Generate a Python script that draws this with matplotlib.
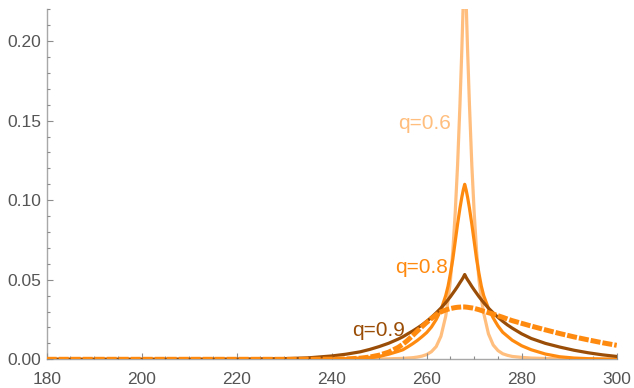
import matplotlib
matplotlib.use("Agg")
import matplotlib.pyplot as plt
from matplotlib.ticker import MultipleLocator, FormatStrFormatter

plt.rcParams['font.family'] = ['Liberation Sans', 'DejaVu Sans']

# sample positions along the horizontal axis
x = [180, 200, 220, 230, 235, 240, 243, 246, 248, 250, 252, 254, 255, 256, 257,
     258, 259, 260, 261, 262, 263, 264, 264.5, 265, 265.5, 266, 266.5, 267,
     267.4, 267.7, 268, 268.3, 268.6, 269, 269.5, 270, 270.5, 271, 271.5, 272,
     273, 274, 275, 276, 277, 278, 280, 282, 285, 288, 291, 294, 297, 300]

# density for q = 0.6
q06 = [0, 0, 0, 0, 0, 0, 0, 0.0001, 0.0001, 0.0002, 0.0003, 0.0005, 0.0006,
       0.0008, 0.0010, 0.0014, 0.0020, 0.0030, 0.0048, 0.0080, 0.0145, 0.027,
       0.037, 0.050, 0.068, 0.092, 0.122, 0.160, 0.195, 0.225, 0.250, 0.225,
       0.195, 0.160, 0.122, 0.092, 0.068, 0.050, 0.038, 0.029, 0.016, 0.009,
       0.0055, 0.0035, 0.0025, 0.0018, 0.0012, 0.0008, 0.0005, 0.0003, 0.0002,
       0.0001, 0.0001, 0.0001]

# density for q = 0.8
q08 = [0, 0, 0, 0, 0.0001, 0.0002, 0.0004, 0.0008, 0.0012, 0.0018, 0.0032,
       0.0050, 0.0060, 0.0078, 0.0097, 0.0118, 0.0142, 0.0168, 0.0203, 0.0250,
       0.0310, 0.0400, 0.0460, 0.0540, 0.0630, 0.0740, 0.0850, 0.0950, 0.1020,
       0.1065, 0.1100, 0.1065, 0.1020, 0.0950, 0.0850, 0.0740, 0.0630, 0.0540,
       0.0460, 0.0400, 0.0320, 0.0260, 0.0210, 0.0170, 0.0145, 0.0120, 0.0085,
       0.0060, 0.0033, 0.0016, 0.0008, 0.0004, 0.0002, 0.0001]

# density for q = 0.9
q09 = [0, 0, 0.0001, 0.0004, 0.0009, 0.0021, 0.0032, 0.0047, 0.0062, 0.0080,
       0.0101, 0.0127, 0.0142, 0.0160, 0.0177, 0.0196, 0.0216, 0.0239, 0.0264,
       0.0292, 0.0322, 0.0356, 0.0375, 0.0394, 0.0415, 0.0436, 0.0458, 0.0482,
       0.0500, 0.0515, 0.0533, 0.0515, 0.0500, 0.0482, 0.0458, 0.0436, 0.0415,
       0.0394, 0.0375, 0.0356, 0.0322, 0.0292, 0.0264, 0.0239, 0.0216, 0.0196,
       0.0160, 0.0131, 0.0100, 0.0077, 0.0057, 0.0041, 0.0028, 0.0018]

# reference density (dashed)
ref = [0, 0, 0, 0, 0, 0.0001, 0.0002, 0.0007, 0.0014, 0.0026, 0.0045, 0.0075,
       0.0095, 0.0120, 0.0148, 0.0177, 0.0205, 0.0232, 0.0257, 0.0280, 0.0298,
       0.0310, 0.0315, 0.0319, 0.0322, 0.0325, 0.0327, 0.0328, 0.0329, 0.0329,
       0.0329, 0.0328, 0.0327, 0.0325, 0.0323, 0.0320, 0.0316, 0.0312, 0.0307,
       0.0302, 0.0293, 0.0284, 0.0274, 0.0264, 0.0253, 0.0243, 0.0226, 0.0209,
       0.0185, 0.0162, 0.0141, 0.0122, 0.0104, 0.0088]

labels = ["q=0.6", "q=0.8", "q=0.9"]
label_pos = [(259.6, 0.148), (258.9, 0.058), (249.8, 0.0178)]

c_light = "#FFBE7D"
c_orange = "#FF8A10"
c_brown = "#9A4D06"

fig = plt.figure(figsize=(6.34, 3.88), dpi=100)
ax = fig.add_axes([46.7 / 634, 1 - 359.3 / 388, 570 / 634, 350 / 388])

ax.plot(x, q06, color=c_light, lw=2.3, zorder=2)
ax.plot(x, q08, color=c_orange, lw=2.3, zorder=3)
ax.plot(x, q09, color=c_brown, lw=2.3, zorder=4)
ax.plot(x, ref, color=c_orange, lw=3.6, linestyle=(0, (2.0, 0.4)), zorder=5)

for txt, (tx, ty), col in zip(labels, label_pos, [c_light, c_orange, c_brown]):
    ax.text(tx, ty, txt, color=col, fontsize=15, ha="center", va="center", zorder=6)

ax.set_xlim(180, 300)
ax.set_ylim(0, 0.22)

for side in ("top", "right"):
    ax.spines[side].set_visible(False)
for side in ("left", "bottom"):
    ax.spines[side].set_color("#a8a8a8")
    ax.spines[side].set_linewidth(1.0)

ax.xaxis.set_major_locator(MultipleLocator(20))
ax.xaxis.set_minor_locator(MultipleLocator(5))
ax.yaxis.set_major_locator(MultipleLocator(0.05))
ax.yaxis.set_minor_locator(MultipleLocator(0.01))
ax.yaxis.set_major_formatter(FormatStrFormatter("%.2f"))

ax.tick_params(which="both", direction="in", color="#8c8c8c", labelcolor="#555555",
               labelsize=12.5, width=0.8)
ax.tick_params(which="major", length=4.5)
ax.tick_params(which="minor", length=2.5)
ax.tick_params(axis="x", which="major", pad=9.5)
ax.tick_params(axis="y", which="major", pad=4)
ax.set_axisbelow(False)

fig.savefig("out.png", dpi=100)
